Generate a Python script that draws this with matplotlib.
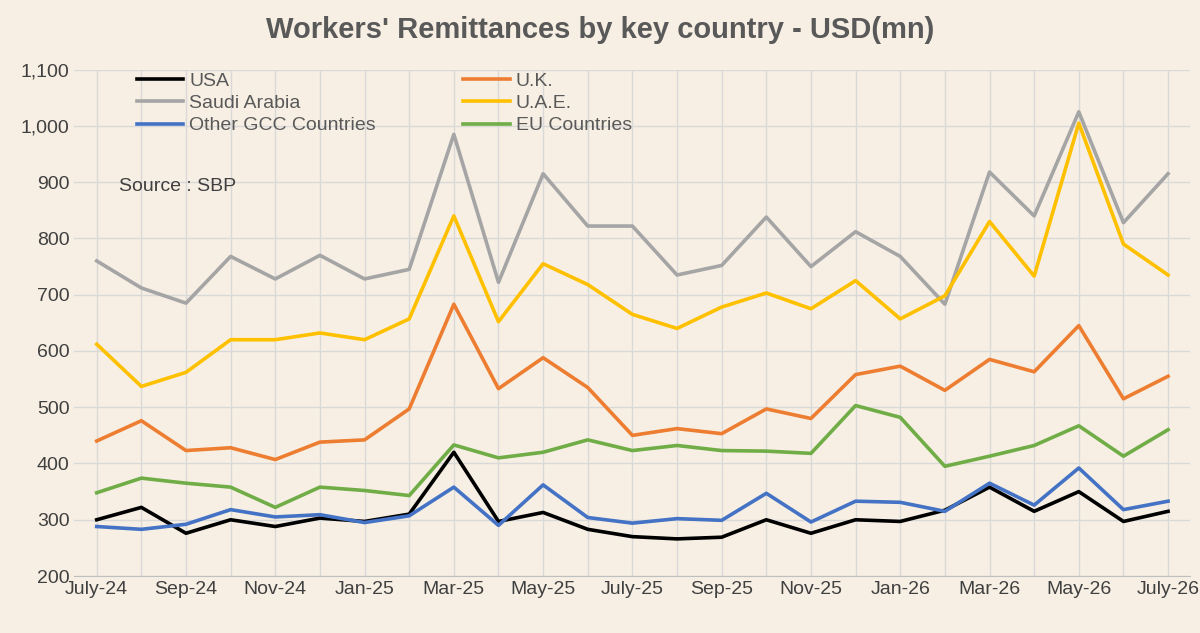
import matplotlib
matplotlib.use("Agg")
import matplotlib.pyplot as plt
plt.rcParams['font.family'] = ['Liberation Sans', 'DejaVu Sans']

months = ["July-24","Aug-24","Sep-24","Oct-24","Nov-24","Dec-24","Jan-25","Feb-25","Mar-25","Apr-25","May-25","Jun-25",
          "July-25","Aug-25","Sep-25","Oct-25","Nov-25","Dec-25","Jan-26","Feb-26","Mar-26","Apr-26","May-26","Jun-26","July-26"]
usa = [300,322,276,300,288,303,297,310,420,297,313,283,270,266,269,300,276,300,297,317,358,315,350,297,315]
uk = [440,476,423,428,407,438,442,497,683,533,588,535,450,462,453,497,480,558,573,530,585,563,645,515,555]
saudi = [760,712,685,768,728,770,728,745,985,722,915,822,822,735,752,838,750,812,768,683,918,840,1025,828,915]
uae = [612,537,562,620,620,632,620,657,840,652,755,718,665,640,678,703,675,725,657,698,830,733,1005,790,735]
gcc = [288,283,292,318,305,309,295,307,358,290,362,304,294,302,299,347,296,333,331,315,365,326,392,318,333]
eu = [348,374,365,358,322,358,352,343,433,410,420,442,423,432,423,422,418,503,482,395,413,432,467,413,460]

bg = "#f7efe3"
fig = plt.figure(figsize=(12, 6.33), dpi=100, facecolor=bg)
ax = fig.add_axes([0.062, 0.09, 0.93, 0.80], facecolor=bg)
x = range(len(months))
series = [("USA", usa, "#000000"), ("U.K.", uk, "#ed7d31"), ("Saudi Arabia", saudi, "#a5a5a5"),
          ("U.A.E.", uae, "#ffc000"), ("Other GCC Countries", gcc, "#4472c4"), ("EU Countries", eu, "#70ad47")]
lines = {}
for name, vals, c in series:
    lines[name], = ax.plot(x, vals, color=c, lw=2.6, label=name)
ax.set_ylim(200, 1100)
ax.set_yticks(range(200, 1101, 100))
ax.set_yticklabels([f"{v:,}" for v in range(200, 1101, 100)], fontsize=14, color="#404040")
ax.set_xlim(-0.5, 24.5)
ax.set_xticks(list(x), minor=True)
ax.set_xticks(list(x)[::2])
ax.set_xticklabels(months[::2], fontsize=14, color="#404040")
ax.tick_params(length=0, which="both")
ax.grid(True, color="#d9d9d9", lw=1, which="both")
ax.set_axisbelow(True)
for s in ax.spines.values():
    s.set_visible(False)
ax.spines["bottom"].set_visible(True); ax.spines["bottom"].set_color("#bfbfbf")
order = ["USA", "Saudi Arabia", "Other GCC Countries", "U.K.", "U.A.E.", "EU Countries"]
ax.legend([lines[n] for n in order], order, loc="upper left", bbox_to_anchor=(0.04, 1.03), ncol=2,
          frameon=False, fontsize=14, labelcolor="#595959", handlelength=2.4, handletextpad=0.3,
          columnspacing=4.5, labelspacing=0.25)
ax.text(0.04, 0.76, "Source : SBP", transform=ax.transAxes, fontsize=14, color="#404040")
fig.suptitle("Workers' Remittances by key country - USD(mn)", fontsize=21, fontweight="bold", color="#595959", y=0.975)
fig.savefig("out.png", dpi=100, facecolor=bg)
